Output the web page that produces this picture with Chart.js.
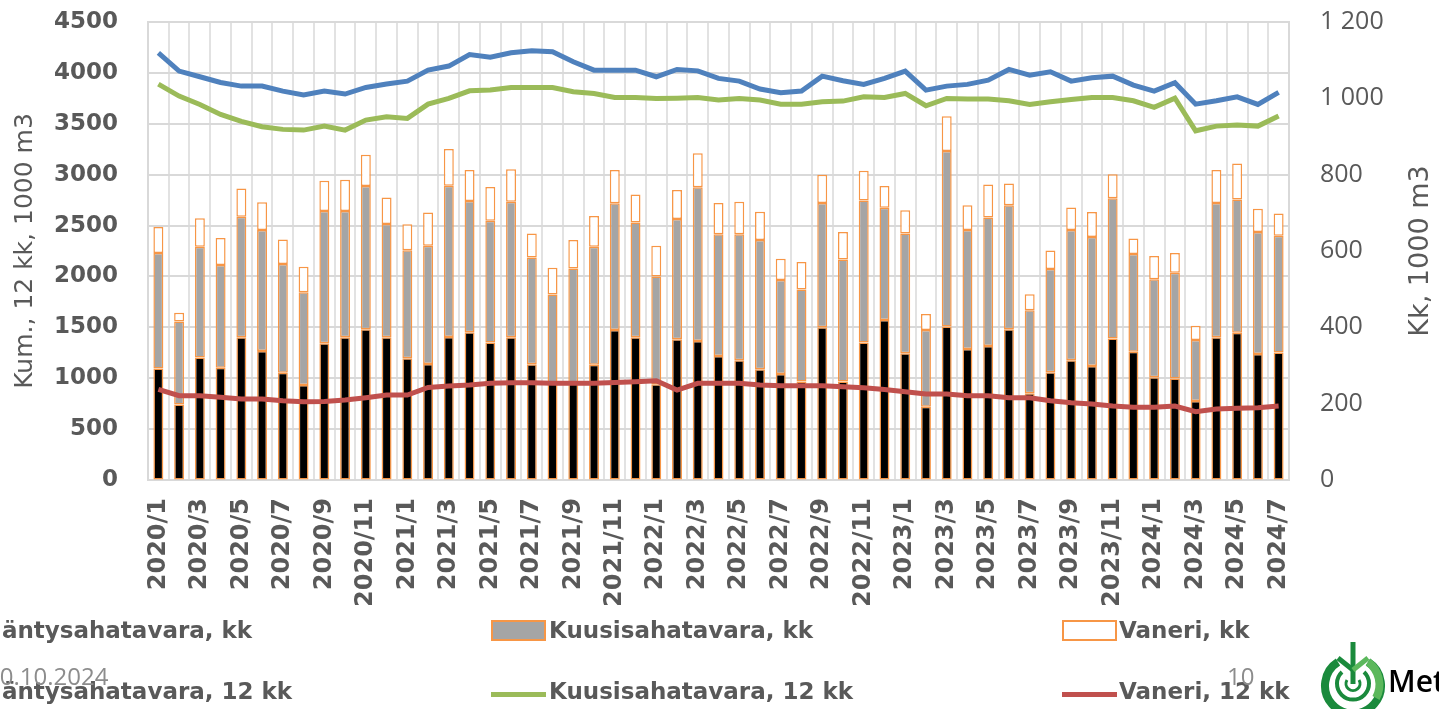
<!DOCTYPE html>
<html>
<head>
<meta charset="utf-8">
<script src="https://cdn.jsdelivr.net/npm/chart.js@4.4.1/dist/chart.umd.min.js"></script>
<style>
  body { margin: 0; background: #fff; overflow: hidden; }
  #wrap { position: absolute; left: 0; top: 0; width: 1439px; height: 709px; }
  .leg { position: absolute; font: bold 23px 'DejaVu Sans'; line-height: 23px; color: #595959; white-space: nowrap; }
  .box { position: absolute; width: 51px; height: 17px; border: 2px solid #F79646; }
  .ln { position: absolute; width: 55px; height: 5px; }
  .foot { position: absolute; font: 24px 'Open Sans'; line-height: 24px; color: #8c8c8c; }
</style>
</head>
<body>
<div id="wrap"><canvas id="chart" width="1439" height="709"></canvas></div>
<script>
// Months on the x axis
let months = [
  '2020/1','2020/2','2020/3','2020/4','2020/5','2020/6','2020/7','2020/8','2020/9','2020/10','2020/11','2020/12',
  '2021/1','2021/2','2021/3','2021/4','2021/5','2021/6','2021/7','2021/8','2021/9','2021/10','2021/11','2021/12',
  '2022/1','2022/2','2022/3','2022/4','2022/5','2022/6','2022/7','2022/8','2022/9','2022/10','2022/11','2022/12',
  '2023/1','2023/2','2023/3','2023/4','2023/5','2023/6','2023/7','2023/8','2023/9','2023/10','2023/11','2023/12',
  '2024/1','2024/2','2024/3','2024/4','2024/5','2024/6','2024/7'
];

// Monthly volumes, 1000 m3 (right axis)
let pineMonth = [292,198,321,294,374,338,281,249,358,374,395,374,319,304,375,387,360,374,303,254,
  254,302,393,374,251,369,364,325,314,290,278,258,400,258,360,419,332,192,402,343,
  351,395,227,282,314,299,371,336,269,266,207,374,386,330,334];
let spruceMonth = [303,217,290,269,316,317,285,243,347,331,375,297,283,310,396,344,319,355,280,232,
  300,309,332,301,282,315,403,319,330,339,246,241,326,320,372,294,314,201,460,312,
  337,325,218,271,341,338,367,256,257,277,160,352,349,320,306];
let plywoodMonth = [68,23,75,71,74,73,64,67,79,82,82,69,68,87,96,81,89,85,63,70,
  75,81,87,73,81,76,89,82,85,74,56,72,74,72,78,57,61,42,91,65,
  86,57,42,48,59,65,63,41,61,52,37,86,94,61,58];

// Rolling 12 month sums, 1000 m3 (left axis)
let pine12 = [4197,4018,3962,3906,3870,3871,3821,3782,3821,3792,3857,3890,3919,4027,4067,4181,4155,4197,4217,4207,
  4109,4027,4027,4027,3962,4034,4020,3946,3919,3841,3805,3821,3968,3923,3887,3946,4018,3831,3870,3887,
  3929,4034,3978,4011,3919,3952,3968,3880,3821,3903,3693,3726,3765,3690,3808];
let spruce12 = [3890,3772,3690,3592,3523,3471,3445,3438,3477,3438,3536,3569,3553,3693,3749,3824,3831,3857,3857,3857,
  3814,3798,3759,3759,3749,3752,3759,3733,3749,3733,3693,3693,3716,3723,3765,3759,3798,3677,3749,3743,
  3743,3726,3690,3716,3739,3759,3759,3726,3661,3752,3431,3477,3487,3477,3576];
let plywood12 = [891,828,828,812,796,796,779,769,772,786,809,835,835,910,923,933,950,956,956,950,
  950,950,959,966,976,884,950,950,950,933,927,927,927,917,907,890,868,845,845,828,
  828,809,809,779,760,747,727,714,714,727,671,697,704,711,727];

const grey = '#595959';
const orange = '#F79646';

function barSet(label, data, color) {
  return {
    type: 'bar', label: label, data: data, yAxisID: 'y1', stack: 'kk', order: 2,
    backgroundColor: color, borderColor: orange, borderWidth: 1.5, borderSkipped: false,
    barPercentage: 0.48, categoryPercentage: 1
  };
}
function lineSet(label, data, color) {
  return {
    type: 'line', label: label, data: data, yAxisID: 'y', order: 1,
    borderColor: color, backgroundColor: color, borderWidth: 5, pointRadius: 0, tension: 0
  };
}

// Right axis title reads bottom-to-top, so draw it here
const rightTitle = {
  id: 'rightTitle',
  afterDraw(chart) {
    const ctx = chart.ctx;
    ctx.save();
    ctx.translate(1421, 251);
    ctx.rotate(-Math.PI / 2);
    ctx.font = '27px "DejaVu Sans"';
    ctx.fillStyle = grey;
    ctx.textAlign = 'center';
    ctx.textBaseline = 'middle';
    ctx.fillText('Kk, 1000 m3', 0, 0);
    ctx.restore();
  }
};

Chart.defaults.font.family = 'DejaVu Sans';

const chart = new Chart(document.getElementById('chart'), {
  type: 'bar',
  data: {
    labels: months,
    datasets: [
      barSet('Mäntysahatavara, kk', pineMonth, '#000000'),
      barSet('Kuusisahatavara, kk', spruceMonth, '#A5A5A5'),
      barSet('Vaneri, kk', plywoodMonth, '#FFFFFF'),
      lineSet('Mäntysahatavara, 12 kk', pine12, '#4F81BD'),
      lineSet('Kuusisahatavara, 12 kk', spruce12, '#9BBB59'),
      lineSet('Vaneri, 12 kk', plywood12, '#C0504D')
    ]
  },
  options: {
    responsive: false,
    animation: false,
    layout: { padding: { top: 22, left: 0, right: 0, bottom: 0 } },
    plugins: { legend: { display: false }, tooltip: { enabled: false } },
    scales: {
      x: {
        stacked: true,
        offset: true,
        grid: { offset: true, color: '#e2e2e2', lineWidth: 2, drawTicks: false },
        border: { color: '#d9d9d9', width: 2 },
        ticks: {
          autoSkip: false, maxRotation: 90, minRotation: 90, padding: 18, color: grey,
          font: { weight: 'bold', size: 24 },
          callback: (v, i) => (i % 2 === 0 ? months[i] : '')
        },
        afterFit: (s) => { s.height = 229; }
      },
      y: {
        position: 'left',
        min: 0, max: 4500,
        grid: { color: '#d9d9d9', lineWidth: 2, drawTicks: true, tickLength: 30, tickColor: 'rgba(0,0,0,0)' },
        border: { color: '#d9d9d9', width: 2 },
        ticks: {
          stepSize: 500, padding: 0, color: grey, font: { weight: 'bold', size: 23 },
          callback: (v) => String(v)
        },
        title: {
          display: true, text: 'Kum., 12 kk, 1000 m3', color: grey,
          font: { size: 25 }, padding: { top: 10, bottom: 0 }
        },
        afterFit: (s) => { s.width = 148; }
      },
      y1: {
        position: 'right',
        stacked: true,
        min: 0, max: 1200,
        grid: { drawOnChartArea: false, drawTicks: true, tickLength: 31, tickColor: 'rgba(0,0,0,0)' },
        border: { color: '#d9d9d9', width: 2 },
        ticks: {
          stepSize: 200, padding: 0, color: grey,
          font: { family: 'Open Sans', size: 25 },
          callback: (v) => (v >= 1000 ? '1 ' + String(v - 1000).padStart(3, '0') : String(v))
        },
        afterFit: (s) => { s.width = 150; }
      }
    }
  },
  plugins: [rightTitle]
});

// Legend in three columns below the chart (first column runs off the page)
const wrap = document.getElementById('wrap');
const colText = [-21, 549, 1119];
const colMark = [-77, 491, 1062];
const rowTop = [619, 680];
chart.data.datasets.forEach((ds, i) => {
  const row = i < 3 ? 0 : 1;
  const col = i % 3;
  const mark = document.createElement('div');
  if (ds.type === 'bar') {
    mark.className = 'box';
    mark.style.left = colMark[col] + 'px';
    mark.style.top = '620px';
    mark.style.background = ds.backgroundColor;
  } else {
    mark.className = 'ln';
    mark.style.left = colMark[col] + 'px';
    mark.style.top = '692px';
    mark.style.background = ds.borderColor;
  }
  wrap.appendChild(mark);
  const txt = document.createElement('div');
  txt.className = 'leg';
  txt.style.left = colText[col] + 'px';
  txt.style.top = rowTop[row] + 'px';
  txt.textContent = ds.label;
  wrap.appendChild(txt);
});
</script>
<div class="foot" style="left:-14px; top:664px;">10.10.2024</div>
<div class="foot" style="left:1227px; top:664px;">10</div>
<svg style="position:absolute; left:1320px; top:640px;" width="66" height="69" viewBox="0 0 66 69">
  <path d="M18 22 A28 28 0 1 0 48 22" fill="none" stroke="#1a8a3c" stroke-width="8"/>
  <path d="M48 22 A28 28 0 0 1 56 58" fill="none" stroke="#5cb85c" stroke-width="8"/>
  <path d="M22 32 A16 16 0 1 0 44 32" fill="none" stroke="#1a8a3c" stroke-width="4"/>
  <path d="M27 40 A7 7 0 1 0 39 40" fill="none" stroke="#1a8a3c" stroke-width="3"/>
  <line x1="33" y1="2" x2="33" y2="44" stroke="#1a8a3c" stroke-width="5"/>
  <line x1="18" y1="18" x2="33" y2="30" stroke="#1a8a3c" stroke-width="5"/>
  <line x1="48" y1="18" x2="33" y2="30" stroke="#5cb85c" stroke-width="5"/>
</svg>
<div style="position:absolute; left:1388px; top:660px; font:600 30px 'Open Sans'; color:#000;">Met</div>
</body>
</html>
